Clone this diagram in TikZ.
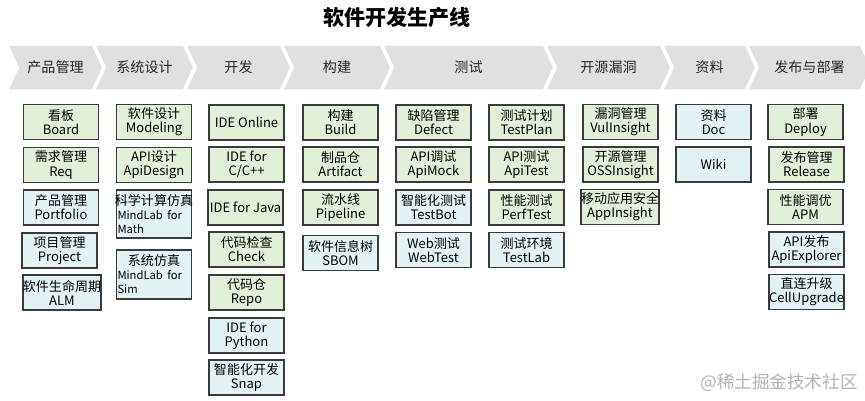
\documentclass[tikz,border=0pt]{standalone}
\usepackage{fontspec}
\setmainfont{Noto Sans CJK SC}
\usetikzlibrary{shapes.symbols}
\definecolor{chevgray}{HTML}{E0E0E0}
\definecolor{greenbox}{HTML}{E2EFD9}
\definecolor{bluebox}{HTML}{E3F2F5}
\definecolor{boxline}{HTML}{3A3A3A}
\tikzset{
    stage/.style={signal, signal from=west, signal to=east, signal pointer angle=130, fill=chevgray, minimum height=0.87cm, inner sep=0pt, text=black!85, font=\fontsize{8}{9}\selectfont},
    tool/.style={draw=boxline, line width=0.7pt, minimum width=1.5cm, minimum height=0.7cm, inner sep=0pt, align=center, font=\fontsize{7.4}{8}\selectfont},
    done/.style={tool, fill=greenbox},
    plan/.style={tool, fill=bluebox},
    sim/.style={plan, align=left, text width=1.46cm}
}

\begin{document}
\begin{tikzpicture}[x=0.02cm, y=-0.02cm]
        \useasboundingbox (0,0) rectangle (865,400);

        % Title
        \node (title) at (397,18) {\fontsize{12}{14}\selectfont\bfseries 软件开发生产线};

        % The stages
        \node [stage, minimum width=1.86cm] (sprod) at (55.5,67.5) {产品管理};
        \node [stage, minimum width=1.94cm] (sdesign) at (144.5,67.5) {系统设计};
        \node [stage, minimum width=2.06cm] (sdev) at (238.5,67.5) {开发};
        \node [stage, minimum width=2.12cm] (sbuild) at (337,67.5) {构建};
        \node [stage, minimum width=3.38cm] (stest) at (468.5,67.5) {测试};
        \node [stage, minimum width=2.46cm] (svuln) at (608.5,67.5) {开源漏洞};
        \node [stage, minimum width=1.82cm] (sdoc) at (709.5,67.5) {资料};
        \node [stage, minimum width=2.42cm] (srel) at (809.5,67.5) {发布与部署};

        % Product management
        \node [done] (board) at (61,122) {看板\\Board};
        \node [done] (req) at (61,165) {需求管理\\Req};
        \node [plan] (portfolio) at (61,207.5) {产品管理\\Portfolio};
        \node [plan] (project) at (59.5,250.5) {项目管理\\Project};
        \node [plan] (alm) at (62,292.5) {软件生命周期\\ALM};

        % System design
        \node [done] (modeling) at (154,122) {软件设计\\Modeling};
        \node [done] (apidesign) at (154,165) {API设计\\ApiDesign};
        \node [sim, minimum height=0.96cm] (mathsim) at (154,214) {\makebox[1.46cm]{科学计算仿真}\\{\fontsize{6.4}{7.8}\selectfont MindLab for}\\{\fontsize{6.4}{7.8}\selectfont Math}};
        \node [sim, minimum height=0.98cm] (syssim) at (154,274.5) {\makebox[1.46cm]{系统仿真}\\{\fontsize{6.4}{7.8}\selectfont MindLab for}\\{\fontsize{6.4}{7.8}\selectfont Sim}};

        % Development
        \node [done] (ideonline) at (246.5,122.5) {IDE Online};
        \node [done] (idecpp) at (246.5,164.5) {IDE for\\C/C++};
        \node [done] (idejava) at (245.5,207.5) {IDE for Java};
        \node [done] (check) at (246.5,249.5) {代码检查\\Check};
        \node [done] (repo) at (246.5,292.5) {代码仓\\Repo};
        \node [plan] (idepython) at (246.5,335.5) {IDE for\\Python};
        \node [plan] (snap) at (246.5,377.5) {智能化开发\\Snap};

        % Build
        \node [done] (build) at (340.5,122.5) {构建\\Build};
        \node [done] (artifact) at (340.5,164.5) {制品仓\\Artifact};
        \node [done] (pipeline) at (340.5,207.5) {流水线\\Pipeline};
        \node [plan] (sbom) at (340.5,253) {软件信息树\\SBOM};

        % Test
        \node [done] (defect) at (433.5,122.5) {缺陷管理\\Defect};
        \node [done] (apimock) at (433.5,164.5) {API调试\\ApiMock};
        \node [plan] (testbot) at (433.5,207.5) {智能化测试\\TestBot};
        \node [plan] (webtest) at (433.5,250) {Web测试\\WebTest};
        \node [done] (testplan) at (526.5,122.5) {测试计划\\TestPlan};
        \node [done] (apitest) at (526.5,164.5) {API测试\\ApiTest};
        \node [done] (perftest) at (526.5,207.5) {性能测试\\PerfTest};
        \node [plan] (testlab) at (526.5,250) {测试环境\\TestLab};

        % Open source and vulnerabilities
        \node [done] (vulinsight) at (620.5,122) {漏洞管理\\VulInsight};
        \node [done] (ossinsight) at (620.5,164.5) {开源管理\\OSSInsight};
        \node [done] (appinsight) at (620,207) {移动应用安全\\AppInsight};

        % Docs
        \node [plan] (doc) at (713.5,122) {资料\\Doc};
        \node [plan] (wiki) at (713.5,164.5) {Wiki};

        % Release and deployment
        \node [done] (deploy) at (805.5,122) {部署\\Deploy};
        \node [done] (release) at (806.5,164.5) {发布管理\\Release};
        \node [done] (apm) at (805.5,207) {性能调优\\APM};
        \node [plan] (apiexplorer) at (806.5,249.5) {API发布\\ApiExplorer};
        \node [plan] (cellupgrade) at (806.5,292) {直连升级\\CellUpgrade};

        % Watermark
        \node [text=gray!60, font=\fontsize{10}{12}\selectfont] (mark) at (779,383) {@稀土掘金技术社区};
    \end{tikzpicture}
\end{document}
